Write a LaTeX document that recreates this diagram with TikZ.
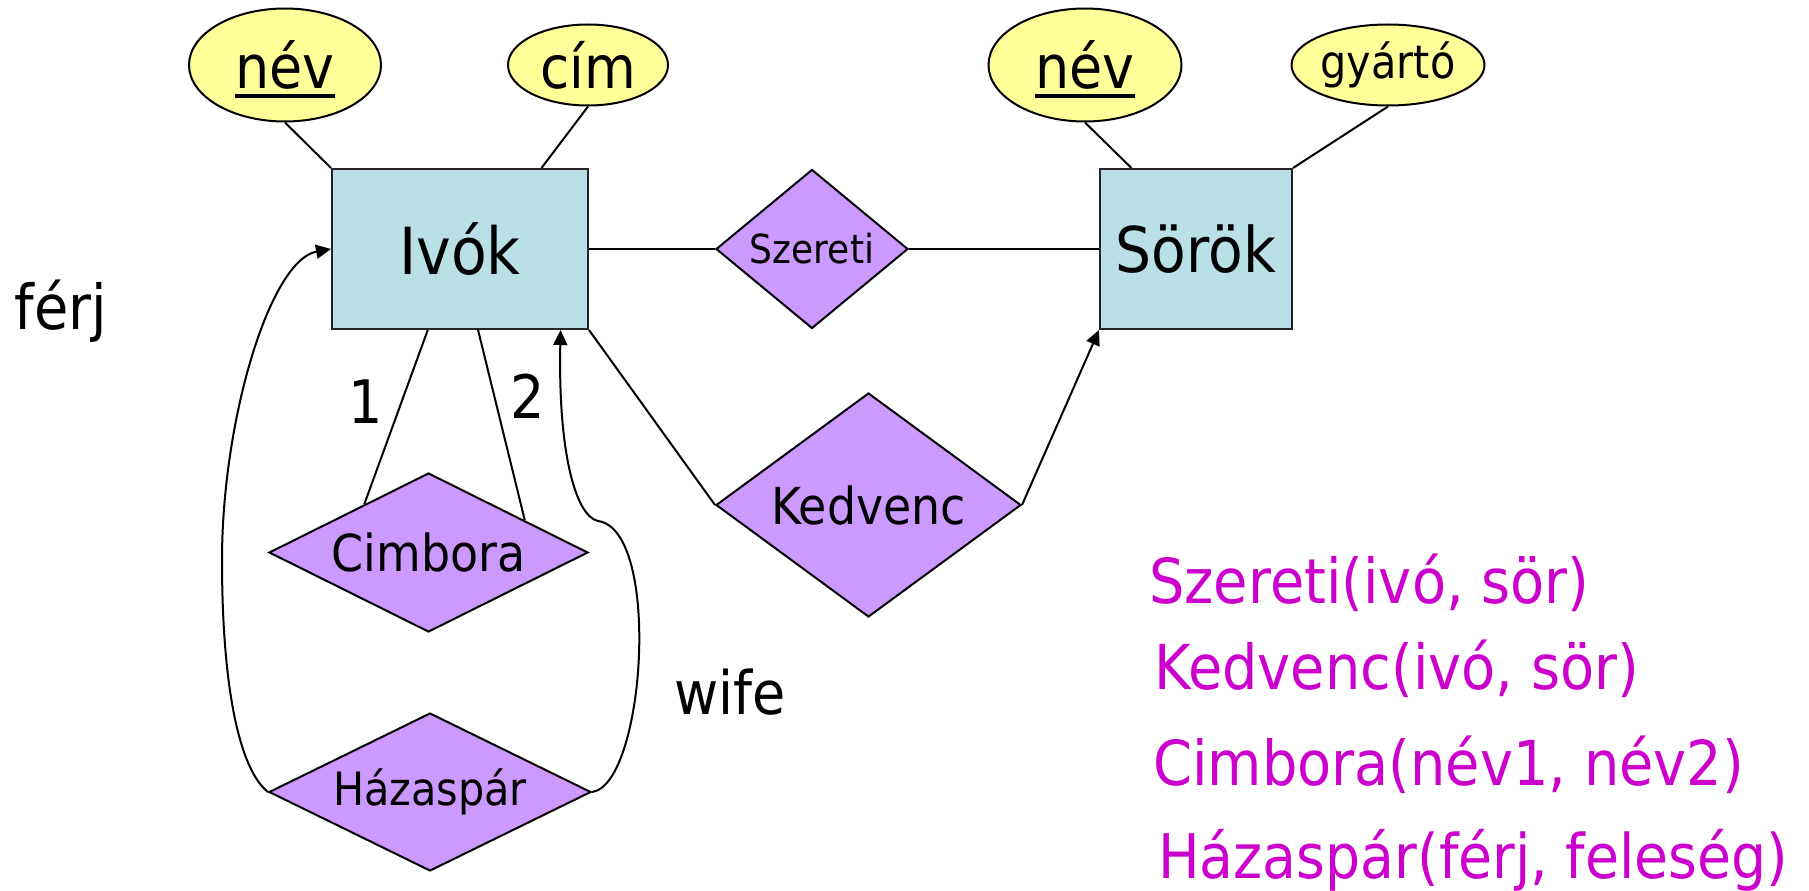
\documentclass[tikz,border=0pt]{standalone}
\usepackage{fontspec}
\setmainfont{DejaVu Sans}[FakeStretch=0.9]
\usetikzlibrary{shapes.geometric,arrows.meta,calc}
\newcommand\attrul[1]{\begingroup\setbox0=\hbox{#1}\rlap{\smash{\rule[-9pt]{\wd0}{3.5pt}}}\box0\endgroup}
\definecolor{entfill}{HTML}{B9E0E4}
\definecolor{attrfill}{HTML}{FFFF99}
\definecolor{relfill}{HTML}{CC99FF}
\definecolor{schemacol}{HTML}{CC00CC}
\tikzset{
  entity/.style={draw=black!85, line width=2pt, fill=entfill, rectangle, inner sep=0pt},
  attr/.style={draw=black, line width=2pt, fill=attrfill, ellipse, inner sep=0pt},
  rel/.style={draw=black, line width=2pt, fill=relfill, diamond, inner sep=0pt},
  conn/.style={line width=2pt},
  arr/.style={line width=2pt, -{Triangle[length=15pt,width=14pt]}},
  lbl/.style={inner sep=0pt, font=\fontsize{60}{72}\selectfont},
  schema/.style={inner sep=0pt, anchor=base west, text=schemacol, font=\fontsize{62}{74}\selectfont}
}
\begin{document}
\begin{tikzpicture}[x=1pt,y=-1pt]
\useasboundingbox (0,0) rectangle (1809,891);
% entities
\node[entity, minimum width=256pt, minimum height=160pt, font=\fontsize{65}{78}\selectfont] (ivok) at (460,249) {Ivók};
\node[entity, minimum width=192pt, minimum height=160pt, font=\fontsize{63}{76}\selectfont] (sorok) at (1196,249) {Sörök};
% attributes
\node[attr, minimum width=192pt, minimum height=113pt, font=\fontsize{60}{72}\selectfont] (nev1) at (285,65) {\attrul{név}};
\node[attr, minimum width=160pt, minimum height=81pt, font=\fontsize{59}{70}\selectfont] (cim) at (588,65) {cím};
\node[attr, minimum width=193pt, minimum height=113pt, font=\fontsize{60}{72}\selectfont] (nev2) at (1085,65) {\attrul{név}};
\node[attr, minimum width=193pt, minimum height=81pt, font=\fontsize{46}{55}\selectfont] (gyarto) at (1388,65) {gyártó};
% relationships
\node[rel, aspect=1.2, minimum width=192pt, minimum height=159pt, font=\fontsize{40}{48}\selectfont] (szereti) at (812,249) {Szereti};
\node[rel, aspect=1.37, minimum width=305pt, minimum height=224pt, font=\fontsize{51}{61}\selectfont] (kedvenc) at (868.5,505) {Kedvenc};
\node[rel, aspect=2, minimum width=319pt, minimum height=159pt, font=\fontsize{51}{61}\selectfont] (cimbora) at (428.5,552.5) {Cimbora};
\node[rel, aspect=2, minimum width=322pt, minimum height=158pt, font=\fontsize{46}{55}\selectfont] (haz) at (430,792) {Házaspár};
% attribute links
\draw[conn] (nev1.south) -- (ivok.north west);
\draw[conn] (cim.south) -- ($(ivok.north west)!0.816!(ivok.north east)$);
\draw[conn] (nev2.south) -- ($(sorok.north west)!0.167!(sorok.north east)$);
\draw[conn] (gyarto.south) -- (sorok.north east);
% relationship links
\draw[conn] (ivok.east) -- (szereti.west);
\draw[conn] (szereti.east) -- (sorok.west);
\draw[conn] (ivok.south east) -- (kedvenc.west);
\draw[arr] (kedvenc.east) -- (sorok.south west);
\draw[conn] ($(ivok.south west)!0.375!(ivok.south east)$) -- ($(cimbora.west)!0.6!(cimbora.north)$);
\draw[conn] ($(ivok.south west)!0.57!(ivok.south east)$) -- ($(cimbora.north)!0.6!(cimbora.east)$);
\draw[arr] (haz.west) .. controls (240,770) and (222,690) .. (222,560) .. controls (222,420) and (270,260) .. (ivok.west);
\draw[arr] (haz.east) .. controls (645,785) and (662,530) .. (598,521) .. controls (575,516) and (558,450) .. ($(ivok.south west)!0.89!(ivok.south east)$);
% labels
\node[lbl, font=\fontsize{62}{74}\selectfont] (ferj) at (61,311) {férj};
\node[lbl] (one) at (366,402) {1};
\node[lbl] (two) at (528,396) {2};
\node[lbl] (wife) at (730,692) {wife};
% schemas
\node[schema] (s1) at (1149,603) {Szereti(ivó, sör)};
\node[schema] (s2) at (1154,689) {Kedvenc(ivó, sör)};
\node[schema] (s3) at (1153,785) {Cimbora(név1, név2)};
\node[schema, font=\fontsize{61.5}{74}\selectfont] (s4) at (1158,878) {Házaspár(férj, feleség)};
\end{tikzpicture}
\end{document}
